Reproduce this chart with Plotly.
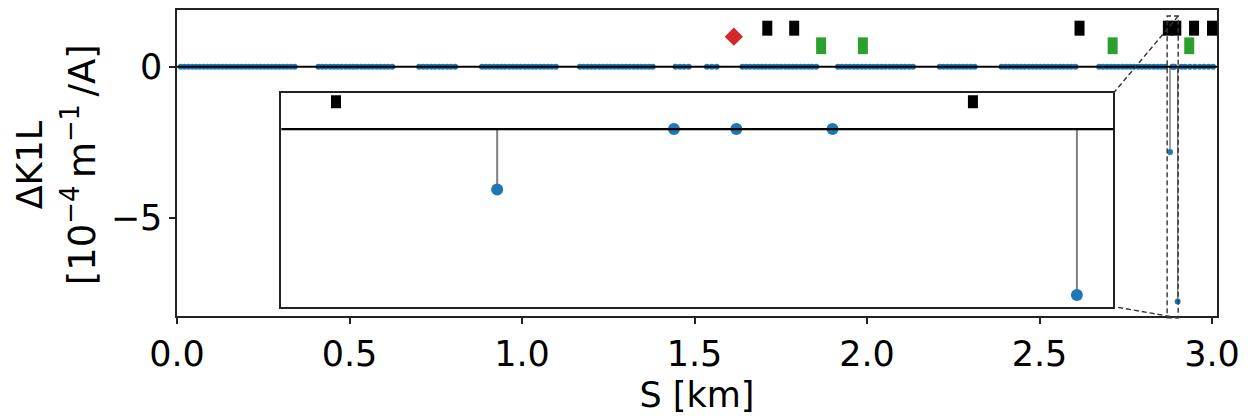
import plotly.graph_objects as go

# ---------------- data ----------------
# S positions [km] of quadrupoles whose Delta K1L is ~0 (blue dots on the zero line)
s_grp_a = [0.011, 0.022, 0.033, 0.044, 0.055, 0.066, 0.077, 0.088, 0.099, 0.110,
           0.121, 0.132, 0.143, 0.154, 0.165, 0.176, 0.187, 0.198, 0.209, 0.220,
           0.231, 0.242, 0.253, 0.264, 0.275, 0.286, 0.297, 0.308, 0.319, 0.330, 0.341]
s_grp_b = [0.410, 0.421, 0.432, 0.444, 0.455, 0.466, 0.477, 0.489, 0.500, 0.511,
           0.522, 0.534, 0.545, 0.556, 0.567, 0.579, 0.590, 0.601, 0.612, 0.624]
s_grp_c = [0.702, 0.714, 0.725, 0.737, 0.748, 0.760, 0.771, 0.783, 0.794, 0.806]
s_grp_d = [0.884, 0.895, 0.906, 0.918, 0.929, 0.940, 0.951, 0.963, 0.974, 0.985,
           0.996, 1.008, 1.019, 1.030, 1.041, 1.053, 1.064, 1.075, 1.086, 1.098]
s_grp_e = [1.168, 1.179, 1.190, 1.201, 1.212, 1.224, 1.235, 1.246, 1.257, 1.268,
           1.279, 1.290, 1.301, 1.312, 1.324, 1.335, 1.346, 1.357, 1.368, 1.379]
s_grp_f = [1.445, 1.458, 1.470, 1.483]
s_grp_g = [1.536, 1.550, 1.564]
s_grp_h = [1.639, 1.650, 1.661, 1.673, 1.684, 1.695, 1.706, 1.718, 1.729, 1.740,
           1.751, 1.763, 1.774, 1.785, 1.796, 1.808, 1.819, 1.830, 1.841, 1.853]
s_grp_i = [1.916, 1.927, 1.939, 1.950, 1.962, 1.973, 1.985, 1.996, 2.008, 2.019,
           2.030, 2.042, 2.053, 2.065, 2.076, 2.087, 2.099, 2.110, 2.122, 2.133]
s_grp_j = [2.211, 2.222, 2.233, 2.244, 2.256, 2.267, 2.278, 2.289, 2.301, 2.312]
s_grp_k = [2.390, 2.401, 2.412, 2.424, 2.435, 2.446, 2.457, 2.469, 2.480, 2.491,
           2.502, 2.514, 2.525, 2.536, 2.547, 2.559, 2.570, 2.581, 2.592, 2.604]
s_grp_l = [2.673, 2.684, 2.696, 2.707, 2.718, 2.729, 2.741, 2.752, 2.763, 2.774,
           2.786, 2.797, 2.808, 2.819, 2.831, 2.842, 2.853, 2.864,
           2.8851, 2.8875, 2.8912, 2.911, 2.922]
s_grp_m = [2.936, 2.950, 2.964, 2.977, 2.990, 3.003]

s_zero = (s_grp_a + s_grp_b + s_grp_c + s_grp_d + s_grp_e + s_grp_f + s_grp_g +
          s_grp_h + s_grp_i + s_grp_j + s_grp_k + s_grp_l + s_grp_m)
dk_zero = [0.0 for _ in s_zero]

# quadrupoles with a non-zero response (stems)
stem_s = [2.8783, 2.9006]
stem_dk = [-2.82, -7.75]

# element position indicators
black_s = [1.711, 1.789, 2.616, 2.8721, 2.8966, 2.948, 3.000]
black_y = [1.27, 1.27, 1.27, 1.27, 1.27, 1.27, 1.27]
green_s = [1.867, 1.988, 2.712, 2.934]
green_y = [0.69, 0.69, 0.69, 0.69]
red_s = [1.614]
red_y = [0.99]

x_tickvals = [0.0, 0.5, 1.0, 1.5, 2.0, 2.5, 3.0]
x_ticktext = ["0.0", "0.5", "1.0", "1.5", "2.0", "2.5", "3.0"]
y_tickvals = [0, -5]
y_ticktext = ["0", "\u22125"]

# ---------------- layout constants ----------------
W, H = 1248, 416
PL, PR, PT, PB = 177, 1220, 8, 324          # main plot area (px)
IL, IR, IT, IB = 281.7, 1116, 94, 314.3     # inset area (px)
XR = [0.0, 3.0145]
YR = [-8.23, 1.87]
XR2 = [2.870, 2.902]
YR2 = [-8.29, 1.67]
FONT = "DejaVu Sans"
BLUE = "#1f77b4"

ix0 = (IL - PL) / (PR - PL)
ix1 = (IR - PL) / (PR - PL)
iy0 = (PB - IB) / (PB - PT)
iy1 = (PB - IT) / (PB - PT)


def px_x(v):
    return (v - XR[0]) / (XR[1] - XR[0])


def px_y(v):
    return (v - YR[0]) / (YR[1] - YR[0])


fig = go.Figure()


def add_set(xa, ya, dot, stem_w, blk, grn):
    sx, sy = [], []
    for s, v in zip(stem_s, stem_dk):
        sx += [s, s, None]
        sy += [0, v, None]
    fig.add_trace(go.Scatter(x=sx, y=sy, mode="lines", xaxis=xa, yaxis=ya,
                             line=dict(color="gray", width=stem_w), hoverinfo="skip"))
    fig.add_trace(go.Scatter(x=s_zero + stem_s, y=dk_zero + stem_dk, mode="markers",
                             xaxis=xa, yaxis=ya,
                             marker=dict(color=BLUE, size=dot, line=dict(width=0))))
    fig.add_trace(go.Scatter(x=black_s, y=black_y, mode="markers", xaxis=xa, yaxis=ya,
                             marker=dict(symbol="line-ns", size=blk,
                                         line=dict(color="black", width=10))))
    fig.add_trace(go.Scatter(x=green_s, y=green_y, mode="markers", xaxis=xa, yaxis=ya,
                             marker=dict(symbol="line-ns", size=grn,
                                         line=dict(color="#2ca02c", width=10))))
    fig.add_trace(go.Scatter(x=red_s, y=red_y, mode="markers", xaxis=xa, yaxis=ya,
                             marker=dict(symbol="diamond", size=14, color="#d62728",
                                         line=dict(width=0))))


add_set("x", "y", 6, 1.5, 10.7, 12)
add_set("x2", "y2", 12, 2, 9.3, 12)

axis_common = dict(showgrid=False, zeroline=False, showline=True, mirror=True,
                   linecolor="#222", linewidth=1.5)

fig.update_layout(
    width=W, height=H, autosize=False,
    margin=dict(l=PL, r=W - PR, t=PT, b=H - PB, pad=0),
    paper_bgcolor="white", plot_bgcolor="white",
    showlegend=False,
    font=dict(family=FONT, size=35, color="black"),
    xaxis=dict(range=XR, tickvals=x_tickvals, ticktext=x_ticktext, ticks="outside",
               ticklen=6, tickwidth=1.5, tickcolor="#222",
               title=dict(text="S [km]", font=dict(size=35), standoff=10),
               **axis_common),
    yaxis=dict(range=YR, tickvals=y_tickvals, ticktext=y_ticktext, ticks="outside",
               ticklen=6, tickwidth=1.5, tickcolor="#222", **axis_common),
    xaxis2=dict(domain=[ix0, ix1], range=XR2, anchor="y2", showticklabels=False,
                ticks="", **axis_common),
    yaxis2=dict(domain=[iy0, iy1], range=YR2, anchor="x2", showticklabels=False,
                ticks="", **axis_common),
)

shapes = []
# zero baselines
shapes.append(dict(type="line", xref="x domain", yref="y", x0=0, x1=1, y0=0, y1=0,
                   line=dict(color="black", width=2), layer="above"))
shapes.append(dict(type="line", xref="x2 domain", yref="y2", x0=0, x1=1, y0=0, y1=0,
                   line=dict(color="black", width=2.2), layer="above"))
# zoom indicator rectangle in main axes
dash = dict(color="#333", width=1.4, dash="5px,3px")
shapes.append(dict(type="rect", xref="paper", yref="paper",
                   x0=px_x(XR2[0]), x1=px_x(XR2[1]), y0=px_y(YR2[0]), y1=px_y(YR2[1]),
                   line=dash, layer="above"))
# connectors
shapes.append(dict(type="line", xref="paper", yref="paper",
                   x0=px_x(XR2[1]), y0=px_y(YR2[1]), x1=ix1, y1=iy1, line=dash, layer="above"))
shapes.append(dict(type="line", xref="paper", yref="paper",
                   x0=px_x(XR2[1]), y0=px_y(YR2[0]), x1=ix1, y1=iy0, line=dash, layer="above"))
fig.update_layout(shapes=shapes)

# two-line y-axis label
ymid = 1 - (168 - PT) / (PB - PT)
fig.add_annotation(text="\u0394K1L", textangle=-90, xref="paper", yref="paper",
                   x=(30 - PL) / (PR - PL), y=ymid, xanchor="center", yanchor="middle",
                   showarrow=False, font=dict(size=35))
fig.add_annotation(text="[10<sup>\u22124</sup>\u2009m<sup>\u22121</sup>\u2009/A]",
                   textangle=-90, xref="paper", yref="paper",
                   x=(80 - PL) / (PR - PL), y=ymid, xanchor="center", yanchor="middle",
                   showarrow=False, font=dict(size=37))

fig.write_html("out.html")
